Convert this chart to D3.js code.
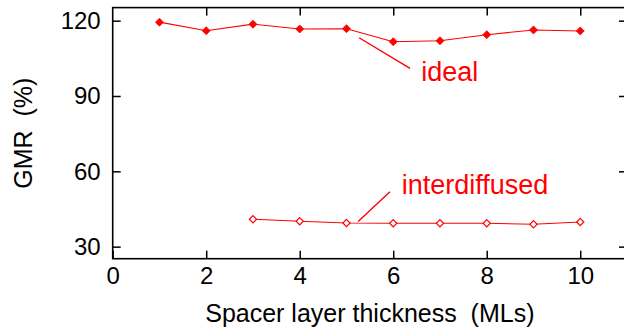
<!DOCTYPE html>
<html>
<head>
<meta charset="utf-8">
<script src="https://cdn.jsdelivr.net/npm/d3@7/dist/d3.min.js"></script>
<style>
  html, body { margin: 0; padding: 0; background: #fff; }
  svg { display: block; }
  text { font-family: "Liberation Sans", Arial, Helvetica, sans-serif; }
</style>
</head>
<body>
<svg id="chart" width="624" height="333"></svg>
<script>
// GMR versus spacer layer thickness for ideal and interdiffused interfaces
const thicknessIdeal = [1, 2, 3, 4, 5, 6, 7, 8, 9, 10];
const gmrIdeal = [119.4, 116.0, 118.6, 116.7, 116.8, 111.6, 112.0, 114.4, 116.3, 115.9];
const thicknessInter = [3, 4, 5, 6, 7, 8, 9, 10];
const gmrInter = [40.9, 40.1, 39.4, 39.3, 39.3, 39.3, 38.9, 39.8];
const xTicks = [0, 2, 4, 6, 8, 10];
const yTicks = [30, 60, 90, 120];

// Callout labels: text anchor and leader line, in data units
const labelIdeal = { text: "ideal", x: 6.6, y: 96.0, from: [5.27, 113.2], to: [6.36, 101.0] };
const labelInter = { text: "interdiffused", x: 6.18, y: 51.1, from: [5.25, 40.0], to: [5.93, 51.9] };

const red = "#ff0000";
const svg = d3.select("#chart");
const plotLeft = 112.7, plotRight = 627, plotTop = 7.6, plotBottom = 258.7;

const x = d3.scaleLinear().domain([0, 11]).range([plotLeft, plotRight]);
const y = d3.scaleLinear().domain([25.2, 125.2]).range([plotBottom, plotTop]);

// Axes with inward ticks on all four sides
const tickLen = 8;
svg.append("g").attr("transform", `translate(0,${plotBottom})`)
  .call(d3.axisBottom(x).tickValues(xTicks).tickSizeInner(-tickLen).tickSizeOuter(0).tickPadding(8))
  .call(g => g.select(".domain").remove());
svg.append("g").attr("transform", `translate(0,${plotTop})`)
  .call(d3.axisTop(x).tickValues(xTicks.filter(d => d > 0)).tickSizeInner(-tickLen).tickSizeOuter(0).tickFormat(""))
  .call(g => g.select(".domain").remove());
svg.append("g").attr("transform", `translate(${plotLeft},0)`)
  .call(d3.axisLeft(y).tickValues(yTicks).tickSizeInner(-tickLen).tickSizeOuter(0).tickPadding(12))
  .call(g => g.select(".domain").remove());
svg.append("g").attr("transform", `translate(${plotRight},0)`)
  .call(d3.axisRight(y).tickValues(yTicks).tickSizeInner(-tickLen).tickSizeOuter(0).tickFormat(""))
  .call(g => g.select(".domain").remove());

svg.selectAll(".tick line").attr("stroke", "#000").attr("stroke-width", 1.5);
svg.selectAll(".tick text")
  .attr("font-size", 24)
  .attr("fill", "#000")
  .attr("font-family", "Liberation Sans, Arial, sans-serif");

// Plot frame
svg.append("rect")
  .attr("x", plotLeft).attr("y", plotTop)
  .attr("width", plotRight - plotLeft).attr("height", plotBottom - plotTop)
  .attr("fill", "none").attr("stroke", "#000").attr("stroke-width", 1.6);

// Series
const line = d3.line().x(d => x(d[0])).y(d => y(d[1]));
const idealPts = thicknessIdeal.map((t, i) => [t, gmrIdeal[i]]);
const interPts = thicknessInter.map((t, i) => [t, gmrInter[i]]);

svg.append("path").datum(idealPts).attr("d", line)
  .attr("fill", "none").attr("stroke", red).attr("stroke-width", 1.1);
svg.append("path").datum(interPts).attr("d", line)
  .attr("fill", "none").attr("stroke", red).attr("stroke-width", 1.1);

const diamond = r => `M0,${-r}L${r},0L0,${r}L${-r},0Z`;
svg.selectAll(".m-ideal").data(idealPts).join("path")
  .attr("class", "m-ideal")
  .attr("transform", d => `translate(${x(d[0])},${y(d[1])})`)
  .attr("d", diamond(4))
  .attr("fill", red).attr("stroke", red).attr("stroke-width", 0.8);
svg.selectAll(".m-inter").data(interPts).join("path")
  .attr("class", "m-inter")
  .attr("transform", d => `translate(${x(d[0])},${y(d[1])})`)
  .attr("d", diamond(3.6))
  .attr("fill", "#fff").attr("stroke", red).attr("stroke-width", 1.2);

// Callouts
for (const lab of [labelIdeal, labelInter]) {
  svg.append("line")
    .attr("x1", x(lab.from[0])).attr("y1", y(lab.from[1]))
    .attr("x2", x(lab.to[0])).attr("y2", y(lab.to[1]))
    .attr("stroke", red).attr("stroke-width", 1.4);
  svg.append("text")
    .attr("x", x(lab.x)).attr("y", y(lab.y))
    .attr("font-size", 27).attr("fill", red)
    .text(lab.text);
}

// Axis titles
svg.append("text")
  .attr("x", (plotLeft + plotRight) / 2).attr("y", 321.5)
  .attr("text-anchor", "middle").attr("font-size", 25).attr("fill", "#000")
  .text("Spacer layer thickness\u00a0\u00a0(MLs)");
svg.append("text")
  .attr("transform", `translate(32,${(plotTop + plotBottom) / 2}) rotate(-90)`)
  .attr("text-anchor", "middle").attr("font-size", 25).attr("fill", "#000")
  .text("GMR\u00a0\u00a0(%)");
</script>
</body>
</html>
